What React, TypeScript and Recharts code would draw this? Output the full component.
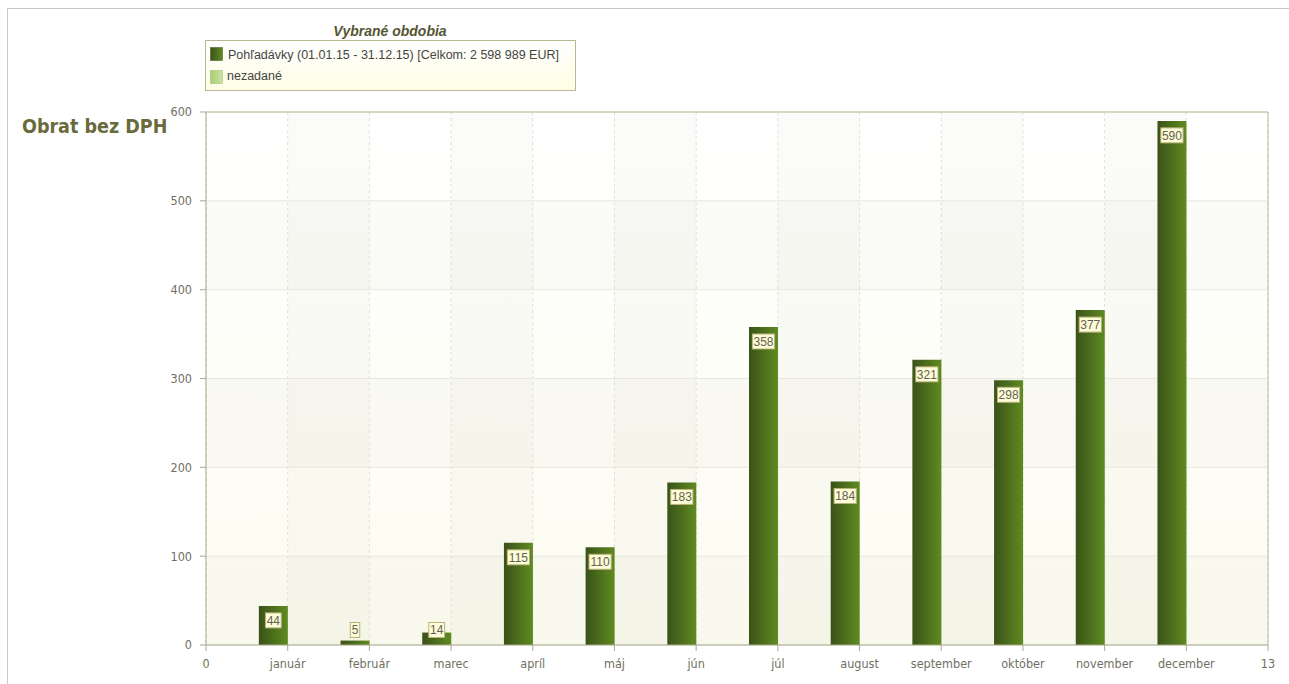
import React from 'react';
import { BarChart, Bar, XAxis, YAxis, CartesianGrid, ReferenceLine } from 'recharts';

const months = ['január', 'február', 'marec', 'apríl', 'máj', 'jún', 'júl', 'august', 'september', 'október', 'november', 'december'];
const pohladavky = [44, 5, 14, 115, 110, 183, 358, 184, 321, 298, 377, 590];
const nezadane: (number | null)[] = [null, null, null, null, null, null, null, null, null, null, null, null];
const xTicks = [0, 1, 2, 3, 4, 5, 6, 7, 8, 9, 10, 11, 12, 13];
const yTicks = [0, 100, 200, 300, 400, 500, 600];
const legendTitle = 'Vybrané obdobia';
const legendItems = ['Pohľadávky (01.01.15 - 31.12.15) [Celkom: 2 598 989 EUR]', 'nezadané'];
const yTitle = 'Obrat bez DPH';

const data = months.map((m, i) => ({ x: i + 1, month: m, pohladavky: pohladavky[i], nezadane: nezadane[i] }));

const W = 1289;
const H = 684;
const COND = "'DejaVu Sans Condensed', 'DejaVu Sans', sans-serif";
const ARIAL = "'Liberation Sans', Arial, sans-serif";

const tickFmt = (v: number) => (v >= 1 && v <= 12 ? months[v - 1] : String(v));

const BarLabel = (p: any) => {
  const vb = p.viewBox || {};
  const x = Number(p.x ?? vb.x);
  const y = Number(p.y ?? vb.y);
  const w = Number(p.width ?? vb.width);
  const h = Number(p.height ?? vb.height);
  const v = p.value;
  if (v == null || isNaN(x)) return null;
  const s = String(v);
  const bw = 6.4 * s.length + 3;
  const bh = 15;
  const cy = Math.min(y + 14.5, y + h - 15);
  const cx = x + w / 2;
  return (
    <g>
      <rect x={cx - bw / 2} y={cy - bh / 2} width={bw} height={bh} fill="#fffcd8" stroke="#b9b27c" strokeWidth={1} />
      <text x={cx} y={cy + 4.2} textAnchor="middle" fontSize={12} fontFamily={ARIAL} fill="#626254">
        {s}
      </text>
    </g>
  );
};

export default function App() {
  return (
    <div style={{ position: 'absolute', left: 0, top: 0, width: W, height: H, background: '#fff', overflow: 'hidden' }}>
      <BarChart
        width={W}
        height={H}
        data={data}
        margin={{ top: 112, right: 21, left: 0, bottom: 9 }}
        barGap={0}
      >
        <defs>
          <linearGradient id="bgGrad" x1="0" y1="0" x2="0" y2="1">
            <stop offset="0%" stopColor="#ffffff" />
            <stop offset="100%" stopColor="#fcfcf1" />
          </linearGradient>
          <linearGradient id="barGrad" x1="0" y1="0" x2="1" y2="0">
            <stop offset="0%" stopColor="#3a5218" />
            <stop offset="100%" stopColor="#5f8b21" />
          </linearGradient>
          <linearGradient id="barGrad2" x1="0" y1="0" x2="1" y2="0">
            <stop offset="0%" stopColor="#a9cc72" />
            <stop offset="100%" stopColor="#cbe3a2" />
          </linearGradient>
        </defs>
        <CartesianGrid
          fill="url(#bgGrad)"
          horizontalFill={['rgba(0,0,0,0)', 'rgba(90,90,50,0.022)']}
          verticalFill={['rgba(0,0,0,0)', 'rgba(90,90,50,0.022)']}
          stroke="rgba(0,0,0,0)"
        />
        <CartesianGrid vertical={false} stroke="#e8e8df" />
        <CartesianGrid horizontal={false} stroke="#e0e0d6" strokeDasharray="3 3" />
        <XAxis
          dataKey="x"
          type="number"
          domain={[0, 13]}
          ticks={xTicks}
          interval={0}
          tickFormatter={tickFmt}
          height={30}
          tickSize={6}
          tickMargin={8}
          axisLine={{ stroke: '#a9a98f' }}
          tickLine={{ stroke: '#a9a98f' }}
          tick={{ fill: '#707062', fontSize: 12.5, fontFamily: COND }}
        />
        <YAxis
          type="number"
          domain={[0, 600]}
          ticks={yTicks}
          interval={0}
          width={206}
          tickSize={6}
          tickMargin={8}
          axisLine={{ stroke: '#a9a98f' }}
          tickLine={{ stroke: '#a9a98f' }}
          tick={{ fill: '#707062', fontSize: 12.5, fontFamily: COND }}
        />
        <ReferenceLine y={600} stroke="#bcbc9e" />
        <ReferenceLine x={13} stroke="#bcbc9e" />
        <Bar dataKey="pohladavky" barSize={29} fill="url(#barGrad)" isAnimationActive={false} label={BarLabel} />
        <Bar dataKey="nezadane" barSize={29} fill="url(#barGrad2)" isAnimationActive={false} />
      </BarChart>
      <svg width={W} height={H} style={{ position: 'absolute', left: 0, top: 0, pointerEvents: 'none' }}>
        <defs>
          <linearGradient id="legGrad" x1="0" y1="0" x2="0" y2="1">
            <stop offset="0%" stopColor="#ffffff" />
            <stop offset="100%" stopColor="#fdfde4" />
          </linearGradient>
          <linearGradient id="sw1" x1="0" y1="0" x2="1" y2="0">
            <stop offset="0%" stopColor="#3a5218" />
            <stop offset="100%" stopColor="#5f8b21" />
          </linearGradient>
          <linearGradient id="sw2" x1="0" y1="0" x2="1" y2="0">
            <stop offset="0%" stopColor="#a9cc72" />
            <stop offset="100%" stopColor="#cbe3a2" />
          </linearGradient>
        </defs>
        <line x1={7} y1={8.5} x2={W} y2={8.5} stroke="#c8c8c8" />
        <line x1={7.5} y1={8} x2={7.5} y2={H} stroke="#c8c8c8" />
        <text x={22} y={133} fontSize={19.5} fontWeight="bold" fontFamily={COND} fontStretch="condensed" fill="#6a6a3c">
          {yTitle}
        </text>
        <text x={390} y={36} textAnchor="middle" fontSize={14} fontWeight="bold" fontStyle="italic" fontFamily={ARIAL} fill="#555533">
          {legendTitle}
        </text>
        <rect x={205.5} y={40.5} width={370} height={50} fill="url(#legGrad)" stroke="#b9b991" />
        <rect x={210.5} y={47.5} width={12} height={13} fill="url(#sw1)" stroke="#3a5218" strokeWidth={0.5} />
        <text x={228} y={59} fontSize={12.5} fontFamily={ARIAL} fill="#444444">
          {legendItems[0]}
        </text>
        <rect x={210.5} y={70.5} width={12} height={13} fill="url(#sw2)" stroke="#9ab868" strokeWidth={0.5} />
        <text x={227} y={80} fontSize={12.5} fontFamily={ARIAL} fill="#444444">
          {legendItems[1]}
        </text>
      </svg>
    </div>
  );
}
